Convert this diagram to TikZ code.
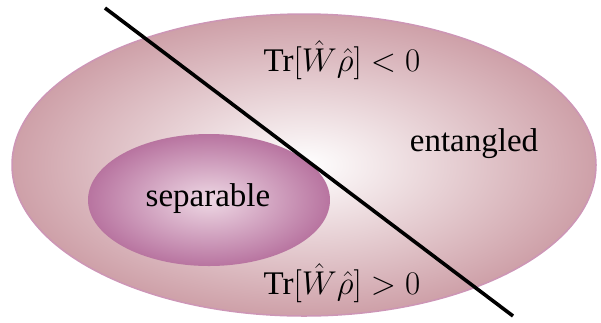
\documentclass[tikz,border=0pt]{standalone}
\usepackage{fix-cm}
\usepackage{fontspec}
\setmainfont{Liberation Serif}
\usetikzlibrary{shapes.geometric}
\definecolor{bigouter}{RGB}{206,160,168}
\definecolor{bigrim}{RGB}{205,150,182}
\definecolor{smallouter}{RGB}{184,116,160}
\definecolor{smallinner}{RGB}{238,216,228}
\begin{document}
\begin{tikzpicture}[x=1pt,y=-1pt,
  region/.style={ellipse, inner sep=0pt},
  lbl/.style={font=\fontsize{33}{38}\selectfont, inner sep=0pt}]
\useasboundingbox (0,0) rectangle (601,322);
\node[region, minimum width=584pt, minimum height=302pt, draw=bigrim, line width=1.5pt,
      inner color=white, outer color=bigouter] (big) at (304,165) {};
\node[region, minimum width=242pt, minimum height=132pt,
      inner color=smallinner, outer color=smallouter] (sep) at (209,200) {};
\coordinate (l1) at (105,8);
\coordinate (l2) at (513,316);
\draw[line width=3.6pt] (l1) -- (l2);
\node[lbl] (sepl) at (208,199) {separable};
\node[lbl] (ent) at (474,144) {entangled};
\node[lbl] (neg) at (342,60) {Tr$[\hat{W}\hat{\rho}]<0$};
\node[lbl] (pos) at (342,283) {Tr$[\hat{W}\hat{\rho}]>0$};
\end{tikzpicture}
\end{document}
